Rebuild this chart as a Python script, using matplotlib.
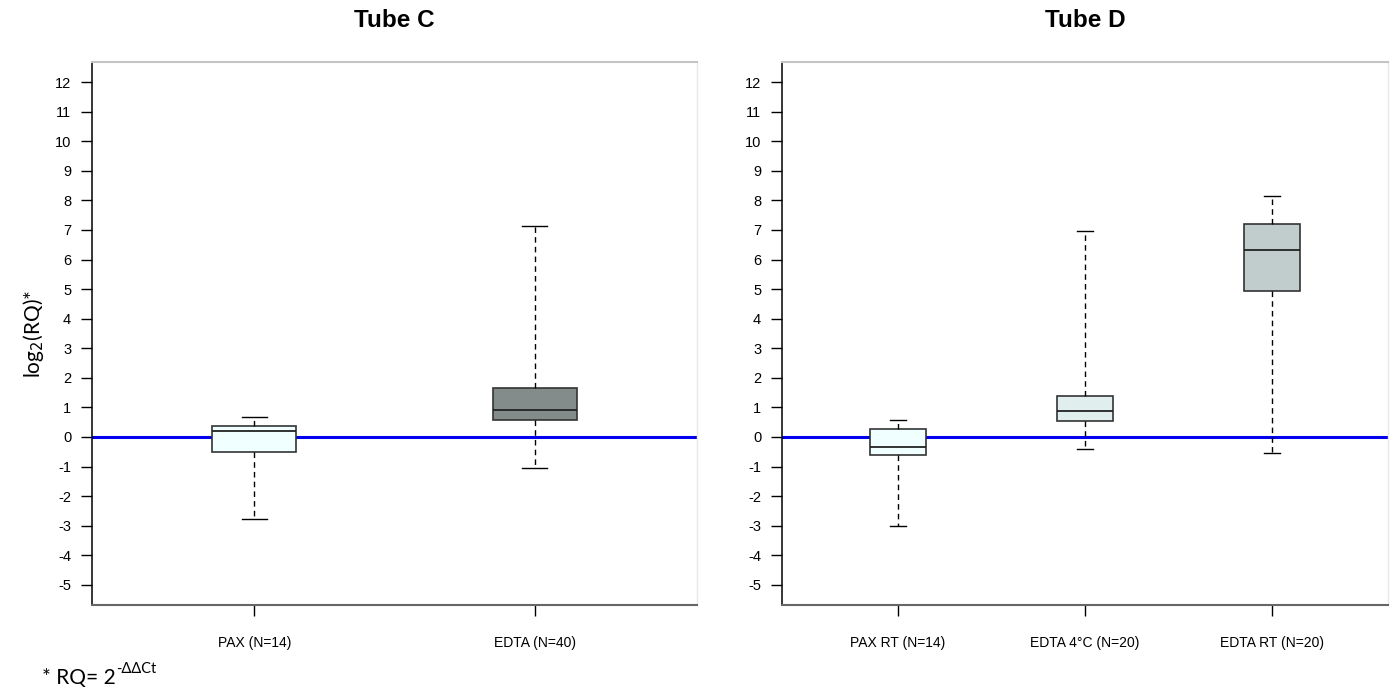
import numpy as np
import matplotlib.pyplot as plt

# box statistics: whisker low, q1, median, q3, whisker high
c_labels = ['PAX (N=14)', 'EDTA (N=40)']
c_whislo = [-2.76, -1.06]
c_q1 = [-0.51, 0.57]
c_med = [0.19, 0.90]
c_q3 = [0.38, 1.64]
c_whishi = [0.69, 7.15]
c_colors = ['#F0FFFF', '#838B8B']

d_labels = ['PAX RT (N=14)', 'EDTA 4\u00b0C (N=20)', 'EDTA RT (N=20)']
d_whislo = [-3.02, -0.40, -0.54]
d_q1 = [-0.62, 0.53, 4.95]
d_med = [-0.33, 0.87, 6.32]
d_q3 = [0.27, 1.39, 7.21]
d_whishi = [0.58, 6.98, 8.14]
d_colors = ['#F0FFFF', '#E0EEEE', '#C1CDCD']

yticks = list(range(-5, 13))

plt.rcParams['font.family'] = ['Liberation Sans', 'DejaVu Sans']

fig = plt.figure(figsize=(13.96, 6.9), dpi=100)
ax1 = fig.add_axes([0.0659, 0.1232, 0.4334, 0.787])
ax2 = fig.add_axes([0.5602, 0.1232, 0.4340, 0.787])


def draw_panel(ax, labels, wlo, q1, med, q3, whi, colors, title):
    stats = []
    for i in range(len(labels)):
        stats.append({'whislo': wlo[i], 'q1': q1[i], 'med': med[i],
                      'q3': q3[i], 'whishi': whi[i], 'fliers': []})
    n = len(labels)
    pos = np.arange(1, n + 1)
    bp = ax.bxp(stats, positions=pos, widths=0.3, patch_artist=True,
                showfliers=False, capwidths=0.09,
                boxprops=dict(edgecolor='#333333', linewidth=1.2),
                medianprops=dict(color='#222222', linewidth=1.3),
                whiskerprops=dict(color='black', linewidth=1.0, linestyle=(0, (4, 3))),
                capprops=dict(color='black', linewidth=1.0))
    for patch, col in zip(bp['boxes'], colors):
        patch.set_facecolor(col)
    ax.axhline(0, color='#0000ee', linewidth=2.2, zorder=1)
    # R style limits: 4% padding
    ax.set_xlim(0.5 - 0.04 * n, n + 0.5 + 0.04 * n)
    ax.set_ylim(-5 - 0.68, 12 + 0.68)
    ax.set_xticks(pos)
    ax.set_xticklabels(labels, fontsize=10)
    ax.set_yticks(yticks)
    ax.set_yticklabels([str(t) for t in yticks], fontsize=10.5)
    ax.tick_params(axis='both', direction='out', length=8, width=1.0, color='black')
    ax.tick_params(axis='x', pad=14)
    ax.tick_params(axis='y', pad=7)
    ax.spines['left'].set_color('black')
    ax.spines['left'].set_linewidth(1.1)
    ax.spines['bottom'].set_color('#666666')
    ax.spines['bottom'].set_linewidth(1.5)
    ax.spines['top'].set_color('#c4c4c4')
    ax.spines['top'].set_linewidth(1.5)
    ax.spines['right'].set_color('#e8e8e8')
    ax.spines['right'].set_linewidth(1.0)
    ax.set_title(title, fontsize=17.5, fontweight='bold', pad=25)


draw_panel(ax1, c_labels, c_whislo, c_q1, c_med, c_q3, c_whishi, c_colors, 'Tube C')
draw_panel(ax2, d_labels, d_whislo, d_q1, d_med, d_q3, d_whishi, d_colors, 'Tube D')

ax1.set_ylabel('log$_2$(RQ)*', fontsize=15, family=['Lato', 'DejaVu Sans'], labelpad=6)

# footnote with plain hyphen in the exponent
t1 = fig.text(0.030, 0.008, '* RQ= 2', fontsize=15, family=['Lato', 'DejaVu Sans'])
fig.canvas.draw()
ax1.annotate('-\u0394\u0394Ct', xy=(1.0, 0.62), xycoords=t1, fontsize=10.5,
             family=['Lato', 'DejaVu Sans'], va='bottom', ha='left',
             annotation_clip=False)

plt.savefig('out.png', dpi=100)
